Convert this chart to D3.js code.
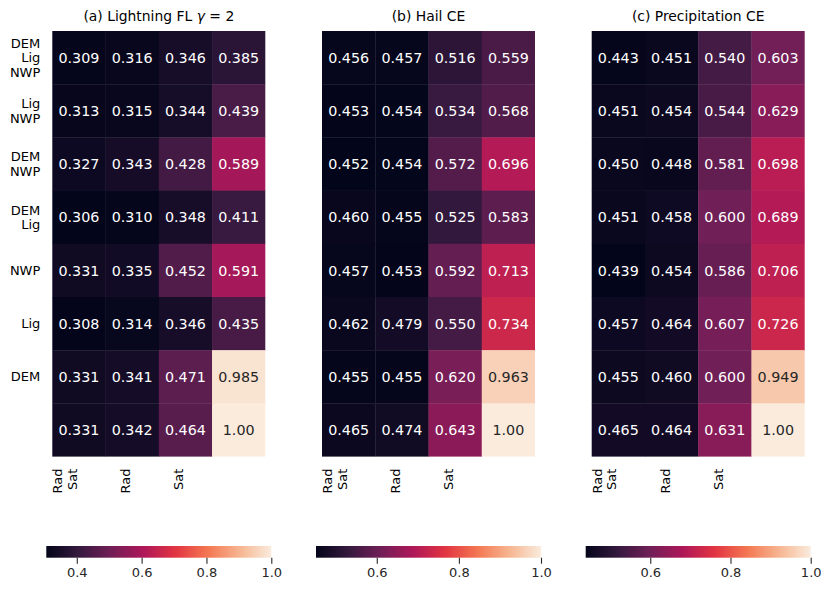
<!DOCTYPE html>
<html>
<head>
<meta charset="utf-8">
<script src="https://cdn.jsdelivr.net/npm/d3@7"></script>
<style>
  html, body { margin: 0; padding: 0; background: #ffffff; }
  svg { display: block; font-family: "DejaVu Sans", sans-serif; }
</style>
</head>
<body>
<svg id="chart" width="831" height="593"></svg>
<script>
// ---------------- data ----------------
const rowLabels = [["DEM","Lig","NWP"], ["Lig","NWP"], ["DEM","NWP"], ["DEM","Lig"], ["NWP"], ["Lig"], ["DEM"], [""]];
const colLabels = [["Rad","Sat"], ["Rad"], ["Sat"], [""]];

const lightningFL = [
  [0.309, 0.316, 0.346, 0.385],
  [0.313, 0.315, 0.344, 0.439],
  [0.327, 0.343, 0.428, 0.589],
  [0.306, 0.310, 0.348, 0.411],
  [0.331, 0.335, 0.452, 0.591],
  [0.308, 0.314, 0.346, 0.435],
  [0.331, 0.341, 0.471, 0.985],
  [0.331, 0.342, 0.464, 1.00]
];
const hailCE = [
  [0.456, 0.457, 0.516, 0.559],
  [0.453, 0.454, 0.534, 0.568],
  [0.452, 0.454, 0.572, 0.696],
  [0.460, 0.455, 0.525, 0.583],
  [0.457, 0.453, 0.592, 0.713],
  [0.462, 0.479, 0.550, 0.734],
  [0.455, 0.455, 0.620, 0.963],
  [0.465, 0.474, 0.643, 1.00]
];
const precipCE = [
  [0.443, 0.451, 0.540, 0.603],
  [0.451, 0.454, 0.544, 0.629],
  [0.450, 0.448, 0.581, 0.698],
  [0.451, 0.458, 0.600, 0.689],
  [0.439, 0.454, 0.586, 0.706],
  [0.457, 0.464, 0.607, 0.726],
  [0.455, 0.460, 0.600, 0.949],
  [0.465, 0.464, 0.631, 1.00]
];
const titles = ["(a) Lightning FL", "(b) Hail CE", "(c) Precipitation CE"];
const ticksA = [0.4, 0.6, 0.8, 1.0];
const ticksB = [0.6, 0.8, 1.0];
const ticksC = [0.6, 0.8, 1.0];

// rocket colormap stops
const rocketStops = ["#03051a", "#35193e", "#701f57", "#ad1759", "#e13342", "#f37651", "#f6b48f", "#faebdd"];
const rocket = d3.piecewise(d3.interpolateRgb, rocketStops);

// ---------------- layout ----------------
const svg = d3.select("#chart");
const panels = [
  { data: lightningFL, title: titles[0], ticks: ticksA, x0: 52.3, showRows: true, gamma: true },
  { data: hailCE, title: titles[1], ticks: ticksB, x0: 322, showRows: false },
  { data: precipCE, title: titles[2], ticks: ticksC, x0: 591.7, showRows: false }
];
const W = 213, H = 425.6, plotTop = 31;
const cbW = 225, cbTop = 546, cbH = 11.7;

function luminance(c) {
  const rgb = d3.rgb(c);
  const f = v => { v /= 255; return v <= 0.03928 ? v / 12.92 : Math.pow((v + 0.055) / 1.055, 2.4); };
  return 0.2126 * f(rgb.r) + 0.7152 * f(rgb.g) + 0.0722 * f(rgb.b);
}
const fmt = d3.format(".3r");

panels.forEach((p, pi) => {
  const flat = p.data.flat();
  const vmin = d3.min(flat), vmax = d3.max(flat);
  const color = d3.scaleSequential(rocket).domain([vmin, vmax]);

  const x = d3.scaleBand().domain(d3.range(colLabels.length)).range([p.x0, p.x0 + W]);
  const y = d3.scaleBand().domain(d3.range(rowLabels.length)).range([plotTop, plotTop + H]);

  const g = svg.append("g");

  // cells (slight overlap to soften antialiasing seams)
  const cells = [];
  p.data.forEach((row, r) => row.forEach((v, c) => cells.push({ r, c, v })));
  const nC = colLabels.length, nR = rowLabels.length;
  g.selectAll("rect.cell").data(cells).join("rect")
    .attr("class", "cell")
    .attr("x", d => x(d.c)).attr("y", d => y(d.r))
    .attr("width", d => x.bandwidth() + (d.c < nC - 1 ? 0.35 : 0))
    .attr("height", d => y.bandwidth() + (d.r < nR - 1 ? 0.35 : 0))
    .attr("fill", d => color(d.v));

  g.selectAll("text.ann").data(cells).join("text")
    .attr("class", "ann")
    .attr("x", d => x(d.c) + x.bandwidth() / 2)
    .attr("y", d => y(d.r) + y.bandwidth() / 2)
    .attr("dy", "0.36em")
    .attr("text-anchor", "middle")
    .attr("font-size", "14.3px")
    .attr("fill", d => luminance(color(d.v)) > 0.408 ? "#262626" : "#ffffff")
    .text(d => fmt(d.v));

  // title
  const t = g.append("text")
    .attr("x", p.x0 + W / 2).attr("y", 20.5)
    .attr("text-anchor", "middle").attr("font-size", "13.9px").attr("fill", "#000");
  t.append("tspan").text(p.title);
  if (p.gamma) {
    t.append("tspan").text(" ");
    t.append("tspan").attr("font-style", "italic").text("γ");
    t.append("tspan").text(" = 2");
  }

  // row labels
  if (p.showRows) {
    const lh = 14.5;
    rowLabels.forEach((lines, r) => {
      const cy = y(r) + y.bandwidth() / 2;
      const txt = g.append("text")
        .attr("text-anchor", "end").attr("font-size", "13px").attr("fill", "#000");
      lines.forEach((ln, i) => {
        txt.append("tspan")
          .attr("x", p.x0 - 12)
          .attr("y", cy + (i - (lines.length - 1) / 2) * lh)
          .attr("dy", "0.36em")
          .text(ln);
      });
    });
  }

  // column labels (rotated)
  const lhc = 14.5;
  colLabels.forEach((lines, c) => {
    const cx = x(c) + x.bandwidth() / 2 - 2;
    const n = lines.length;
    lines.forEach((ln, i) => {
      const xi = cx - (n - 1 - i) * lhc;
      g.append("text")
        .attr("transform", `translate(${xi},${plotTop + H + 12}) rotate(-90)`)
        .attr("text-anchor", "end")
        .attr("font-size", "13px").attr("fill", "#000")
        .text(ln);
    });
  });

  // colorbar
  const cbX0 = p.x0 + W / 2 - cbW / 2;
  const cbScale = d3.scaleLinear().domain([vmin, vmax]).range([cbX0, cbX0 + cbW]);
  const gradId = "grad" + pi;
  const grad = svg.append("defs").append("linearGradient").attr("id", gradId)
    .attr("x1", "0%").attr("x2", "100%").attr("y1", "0%").attr("y2", "0%");
  d3.range(0, 1.0001, 0.02).forEach(s => {
    grad.append("stop").attr("offset", (s * 100) + "%").attr("stop-color", rocket(s));
  });
  g.append("rect")
    .attr("x", cbX0).attr("y", cbTop).attr("width", cbW).attr("height", cbH)
    .attr("fill", `url(#${gradId})`);

  const axis = d3.axisBottom(cbScale).tickValues(p.ticks).tickFormat(d3.format(".1f"))
    .tickSize(6).tickPadding(4.5);
  const ag = g.append("g").attr("transform", `translate(0,${cbTop + cbH})`).call(axis);
  ag.select(".domain").remove();
  ag.selectAll(".tick line").attr("stroke", "#262626").attr("stroke-width", 1.1);
  ag.selectAll(".tick text").attr("font-size", "13px").attr("fill", "#262626")
    .attr("font-family", "DejaVu Sans");
});
</script>
</body>
</html>
